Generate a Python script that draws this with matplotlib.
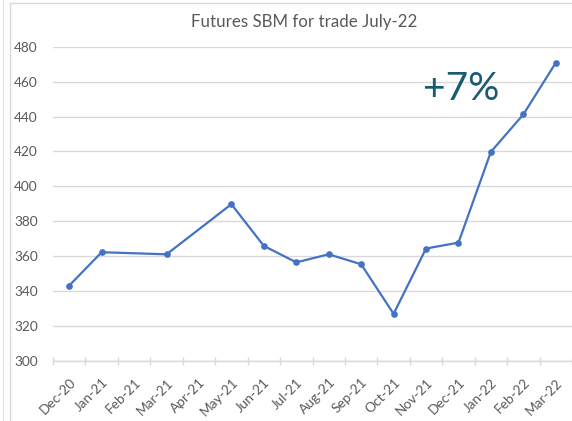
import matplotlib.pyplot as plt
from matplotlib.lines import Line2D

# Monthly futures prices (Feb-21 and Apr-21 have no quote)
months = ["Dec-20", "Jan-21", "Feb-21", "Mar-21", "Apr-21", "May-21", "Jun-21", "Jul-21",
          "Aug-21", "Sep-21", "Oct-21", "Nov-21", "Dec-21", "Jan-22", "Feb-22", "Mar-22"]
quoted = ["Dec-20", "Jan-21", "Mar-21", "May-21", "Jun-21", "Jul-21", "Aug-21",
          "Sep-21", "Oct-21", "Nov-21", "Dec-21", "Jan-22", "Feb-22", "Mar-22"]
prices = [343.2, 362.3, 361.1, 389.8, 365.9, 356.5, 361.1,
          355.4, 327.0, 364.4, 367.8, 419.8, 441.2, 470.8]

plt.rcParams['font.family'] = ['Lato', 'DejaVu Sans']
grey = "#595959"
grid = "#D9D9D9"

fig = plt.figure(figsize=(5.72, 4.21), dpi=100)
ax = fig.add_axes([53 / 572, 1 - 361 / 421, 1 - 53 / 572, (361 - 46.7) / 421])

xs = [months.index(m) for m in quoted]
ax.plot(xs, prices, color="#4472C4", lw=1.6, marker="o", ms=3.8, zorder=3)

ax.set_ylim(300, 480)
ax.set_yticks(range(300, 481, 20))
ax.set_xlim(-0.5, 15.35)
ax.set_xticks(range(len(months)))
ax.set_xticklabels(months, rotation=45, ha="right", va="top", rotation_mode="anchor")
ax.set_xticks([i - 0.5 for i in range(len(months) + 1)], minor=True)

ax.grid(axis="y", color=grid, lw=1)
ax.set_axisbelow(True)
for s in ["top", "right", "left"]:
    ax.spines[s].set_visible(False)
ax.spines["bottom"].set_color(grid)
ax.spines["bottom"].set_linewidth(1)

ax.tick_params(axis="y", length=0, pad=11, labelsize=9.8, labelcolor=grey)
ax.tick_params(axis="x", which="major", length=0, pad=11, labelsize=9.8, labelcolor=grey)
ax.tick_params(axis="x", which="minor", direction="inout", length=6, color=grid, width=1)

fig.text(304 / 572, 1 - 22 / 421, "Futures SBM for trade July-22", ha="center", va="center",
         fontsize=12.2, color=grey)
ax.text(10.92, 456, "+7%", ha="left", va="center", fontsize=28, color="#1B5A73")

# chart frame
fig.add_artist(Line2D([10 / 572, 10 / 572], [0, 1 - 3 / 421], color=grid, lw=1))
fig.add_artist(Line2D([10 / 572, 1], [1 - 3 / 421, 1 - 3 / 421], color=grid, lw=1))
fig.add_artist(Line2D([3 / 572, 3 / 572], [0, 1], color="#E6E6E6", lw=1))

fig.savefig("out.png", dpi=100)
